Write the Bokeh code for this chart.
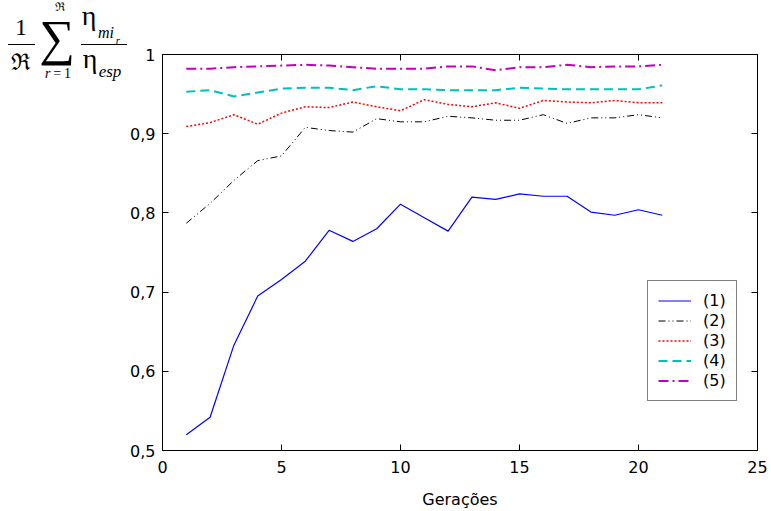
from bokeh.plotting import figure
from bokeh.models import LinearAxis, FixedTicker, Div
from bokeh.layouts import row
from bokeh.embed import file_html
from bokeh.resources import INLINE

# ---------------- data ----------------
generations = list(range(1, 22))
series_1 = [0.520, 0.542, 0.633, 0.695, 0.716, 0.739, 0.778, 0.764, 0.780, 0.811,
            0.794, 0.777, 0.820, 0.817, 0.824, 0.821, 0.821, 0.801, 0.797, 0.804, 0.797]
series_2 = [0.787, 0.812, 0.841, 0.866, 0.872, 0.908, 0.904, 0.902, 0.919, 0.915,
            0.915, 0.922, 0.920, 0.917, 0.917, 0.924, 0.913, 0.920, 0.920, 0.924, 0.920]
series_3 = [0.909, 0.914, 0.924, 0.912, 0.926, 0.934, 0.933, 0.940, 0.934, 0.929,
            0.943, 0.937, 0.934, 0.939, 0.932, 0.942, 0.940, 0.939, 0.942, 0.939, 0.939]
series_4 = [0.953, 0.955, 0.947, 0.952, 0.957, 0.958, 0.958, 0.955, 0.960, 0.956,
            0.956, 0.955, 0.955, 0.955, 0.958, 0.957, 0.956, 0.956, 0.956, 0.956, 0.961]
series_5 = [0.982, 0.982, 0.984, 0.985, 0.986, 0.987, 0.986, 0.984, 0.982, 0.982,
            0.982, 0.985, 0.985, 0.980, 0.984, 0.984, 0.987, 0.984, 0.985, 0.985, 0.987]
legend_labels = ["(1)", "(2)", "(3)", "(4)", "(5)"]
x_ticks = [0, 5, 10, 15, 20, 25]
x_tick_labels = ["0", "5", "10", "15", "20", "25"]
y_ticks = [0.5, 0.6, 0.7, 0.8, 0.9, 1.0]
y_tick_labels = ["0,5", "0,6", "0,7", "0,8", "0,9", "1"]
x_title = "Gerações"

# ---------------- layout constants ----------------
W, H = 771, 511
DIV_W = 127                      # left strip holding the y-axis formula
X0, X1, Y0, Y1 = 0, 25, 0.5, 1.0
FRAME_L, FRAME_R, FRAME_T, FRAME_B = 162, 757, 54, 451   # canvas px of the frame

p = figure(width=W - DIV_W, height=H, x_range=(X0, X1), y_range=(Y0, Y1),
           output_backend="svg", toolbar_location=None,
           min_border_left=FRAME_L - DIV_W, min_border_right=W - FRAME_R,
           min_border_top=FRAME_T, min_border_bottom=H - FRAME_B,
           background_fill_color="white", border_fill_color="white", margin=0)
p.xgrid.visible = False
p.ygrid.visible = False
p.outline_line_color = "black"
p.outline_line_width = 1

TICK_FONT = "DejaVu Sans"

def style_axis(ax):
    ax.axis_line_color = "black"
    ax.axis_line_width = 1
    ax.major_tick_in = 6
    ax.major_tick_out = 0
    ax.minor_tick_line_color = None
    ax.major_tick_line_color = "black"
    ax.major_label_text_font = TICK_FONT
    ax.major_label_text_font_size = "16px"
    ax.major_label_text_color = "black"

p.xaxis.ticker = FixedTicker(ticks=x_ticks)
p.yaxis.ticker = FixedTicker(ticks=y_ticks)
p.xaxis.major_label_overrides = {float(t): l for t, l in zip(x_ticks, x_tick_labels)}
p.yaxis.major_label_overrides = {float(t): l for t, l in zip(y_ticks, y_tick_labels)}
style_axis(p.xaxis[0])
style_axis(p.yaxis[0])
p.xaxis.major_label_standoff = 10
p.yaxis.major_label_standoff = 7
p.xaxis.axis_label = x_title
p.xaxis.axis_label_text_font = TICK_FONT
p.xaxis.axis_label_text_font_style = "normal"
p.xaxis.axis_label_text_font_size = "16px"
p.xaxis.axis_label_text_color = "black"
p.xaxis.axis_label_standoff = 14

top_ax = LinearAxis(ticker=FixedTicker(ticks=x_ticks))
right_ax = LinearAxis(ticker=FixedTicker(ticks=y_ticks))
style_axis(top_ax)
style_axis(right_ax)
top_ax.major_label_overrides = {float(t): "" for t in x_ticks}
right_ax.major_label_overrides = {float(t): "" for t in y_ticks}
top_ax.major_label_standoff = 0
right_ax.major_label_standoff = 0
p.add_layout(top_ax, "above")
p.add_layout(right_ax, "right")

# ---------------- lines ----------------
styles = [
    dict(line_color="#0000ff", line_width=1.2, line_dash="solid"),
    dict(line_color="#000000", line_width=1.0, line_dash="7 3 1 3 1 3"),
    dict(line_color="#ff0000", line_width=1.5, line_dash="2 2"),
    dict(line_color="#00bfbf", line_width=2.0, line_dash="9 5"),
    dict(line_color="#bf00bf", line_width=2.0, line_dash="10 4 2 4"),
]
all_series = [series_1, series_2, series_3, series_4, series_5]
for ys, lab, st in zip(all_series, legend_labels, styles):
    p.line(generations, ys, legend_label=lab, **st)

leg = p.legend[0]
leg.location = (485, 49)
leg.border_line_color = "black"
leg.border_line_width = 1
leg.background_fill_color = "white"
leg.background_fill_alpha = 1
leg.padding = 10
leg.margin = 0
leg.spacing = 1
leg.glyph_width = 33
leg.glyph_height = 19
leg.label_height = 19
leg.label_standoff = 12
leg.label_text_font = TICK_FONT
leg.label_text_font_size = "16px"
leg.label_text_color = "black"

# ---------------- y-axis formula as HTML text in the left strip ----------------
SHIFT = -7   # horizontal shift so that the formula fits the strip
pieces = [   # text, centre x, centre y, font size, style, line-height
    ("1", 28, 27, 24, "normal", 1.0),
    ("ℜ", 28, 62, 23, "normal", 1.0),
    ("∑", 64, 39, 50, "normal", 0.75),
    ("ℜ", 67, 7, 12, "normal", 1.0),
    ("<i>r</i>\u2009=\u20091", 65, 74, 14, "normal", 1.0),
    ("η", 96, 16, 28, "normal", 1.0),
    ("mi", 113, 33, 16, "italic", 1.0),
    ("r", 125, 40, 11, "italic", 1.0),
    ("η", 97, 59, 28, "normal", 1.0),
    ("esp", 117, 71, 17, "italic", 1.0),
]
bars = [(15, 42, 44), (88, 134, 44)]

html = ['<div style="position:relative;width:%dpx;height:100px;color:black;'
        'font-family:\'Liberation Serif\',\'DejaVu Serif\',serif;">' % DIV_W]
for txt, cx, cy, size, style, lh in pieces:
    html.append('<span style="position:absolute;left:%dpx;top:%dpx;'
                'transform:translate(-50%%,-50%%);font-size:%dpx;font-style:%s;'
                'line-height:%s;white-space:nowrap;">%s</span>'
                % (cx + SHIFT, cy, size, style, lh, txt))
for x0, x1, y in bars:
    html.append('<div style="position:absolute;left:%dpx;top:%dpx;width:%dpx;height:0;'
                'border-top:1px solid black;"></div>' % (x0 + SHIFT, y, x1 - x0))
html.append('</div>')

formula = Div(text="".join(html), width=DIV_W, height=H, margin=0,
              styles={"background-color": "white"})

layout = row(formula, p, spacing=0)
open("out.html", "w").write(file_html(layout, INLINE))
